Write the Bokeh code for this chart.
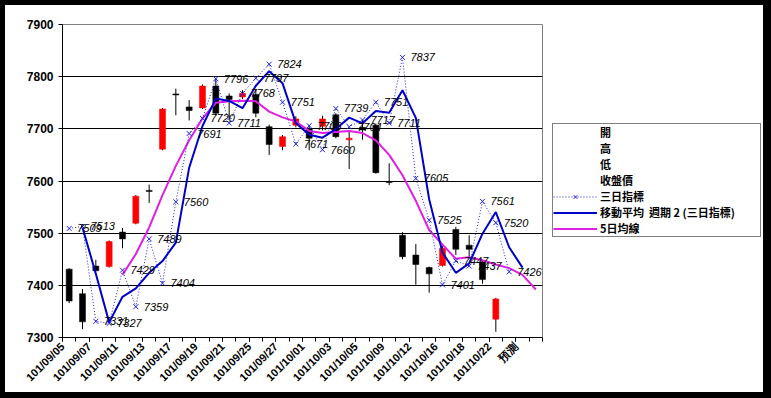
import math
import numpy as np
from bokeh.plotting import figure
from bokeh.layouts import row
from bokeh.models import (ColumnDataSource, FixedTicker, LinearAxis, Legend, LegendItem,
                          Range1d, Grid)
from bokeh.core.properties import value
from bokeh.embed import file_html
from bokeh.resources import INLINE

# ---------------- data ----------------
categories = ["101/09/05", "101/09/06", "101/09/07", "101/09/10", "101/09/11", "101/09/12",
              "101/09/13", "101/09/14", "101/09/17", "101/09/18", "101/09/19", "101/09/20",
              "101/09/21", "101/09/24", "101/09/25", "101/09/26", "101/09/27", "101/09/28",
              "101/10/01", "101/10/02", "101/10/03", "101/10/04", "101/10/05", "101/10/08",
              "101/10/09", "101/10/11", "101/10/12", "101/10/15", "101/10/16", "101/10/17",
              "101/10/18", "101/10/19", "101/10/22", "", "預測", ""]

open_ = [7431, 7384, 7437, 7436, 7502, 7519, 7582, 7661, 7767, 7742, 7740, 7782, 7763,
         7761, 7766, 7704, 7666, 7707, 7700, 7705, 7727, 7679, 7703, 7707, 7599, 7496,
         7458, 7434, 7438, 7507, 7477, 7445, 7335]
high = [7433, 7393, 7449, 7486, 7510, 7573, 7593, 7740, 7777, 7755, 7785, 7796, 7768,
        7774, 7775, 7708, 7688, 7724, 7707, 7725, 7730, 7696, 7717, 7710, 7634, 7502,
        7479, 7436, 7475, 7512, 7496, 7449, 7376]
low = [7366, 7316, 7427, 7434, 7471, 7517, 7558, 7659, 7726, 7716, 7738, 7726, 7718,
       7757, 7722, 7650, 7659, 7703, 7659, 7697, 7682, 7623, 7679, 7614, 7592, 7450,
       7401, 7386, 7436, 7458, 7452, 7403, 7311]
close = [7370, 7330, 7428, 7484, 7489, 7571, 7580, 7738, 7765, 7735, 7782, 7730, 7756,
         7768, 7730, 7670, 7685, 7719, 7682, 7719, 7685, 7682, 7698, 7616, 7597, 7455,
         7440, 7422, 7471, 7469, 7469, 7411, 7374]

# 三日指標 (cat 0..33)
tri_index = [7509, 7513, 7331, 7327, 7429, 7359, 7489, 7404, 7560, 7691, 7720, 7796, 7711,
             7768, 7797, 7824, 7751, 7671, 7706, 7660, 7739, 7704, 7717, 7751, 7711, 7837,
             7605, 7525, 7401, 7447, 7437, 7561, 7520, 7426]
# 移動平均 週期 2 (三日指標) (cat 1..34)
ma2 = [7511, 7422, 7329, 7378, 7394, 7424, 7446.5, 7482, 7625.5, 7705.5, 7758, 7753.5,
       7739.5, 7782.5, 7810.5, 7787.5, 7711, 7688.5, 7683, 7699.5, 7721.5, 7710.5, 7734,
       7731, 7774, 7721, 7565, 7463, 7424, 7442, 7499, 7540.5, 7473, 7434]
# 5日均線 (cat 4..35)
ma5 = [7420, 7460, 7511, 7573, 7629, 7678, 7720, 7750, 7753, 7754, 7753, 7733, 7722, 7714,
       7696, 7692, 7694, 7696, 7692, 7678, 7650, 7611, 7562, 7506, 7478, 7451, 7454, 7448,
       7440, 7433, 7420, 7392]

y_ticks = [7300, 7400, 7500, 7600, 7700, 7800, 7900]

legend_labels = ["開", "高", "低", "收盤價", "三日指標", "移動平均  週期 2 (三日指標)", "5日均線"]

# ---------------- styles ----------------
C_MA5 = "#e020e0"
C_TRI = "#2020e0"
C_MA2 = "#0000c8"

# ---------------- main figure ----------------
n = len(categories)
pos = np.arange(n) + 0.5   # category centres

fig = figure(width=543, height=398, x_range=Range1d(0, n), y_range=Range1d(7300, 7900),
             output_backend="svg", toolbar_location=None,
             x_axis_type=None, y_axis_type=None,
             min_border_left=62, min_border_right=1, min_border_top=24, min_border_bottom=61)
fig.border_fill_alpha = 0
fig.background_fill_color = "white"
fig.outline_line_color = "#808080"
fig.outline_line_width = 1

grid = Grid(dimension=1, ticker=FixedTicker(ticks=y_ticks[1:-1]),
            grid_line_color="black", grid_line_width=1)
fig.add_layout(grid)

yaxis = LinearAxis(ticker=FixedTicker(ticks=y_ticks), major_tick_out=4, major_tick_in=0,
                   minor_tick_out=0, minor_tick_in=0, axis_line_color="black",
                   major_tick_line_color="black", major_label_standoff=5,
                   major_label_text_font="Liberation Sans",
                   major_label_text_font_size="12px", major_label_text_font_style="bold",
                   major_label_text_color="black")
fig.add_layout(yaxis, "left")

label_ticks = list(range(0, n - 1, 2))
xaxis = LinearAxis(ticker=FixedTicker(ticks=label_ticks, minor_ticks=list(range(0, n + 1))),
                   major_label_overrides={i: categories[i] for i in label_ticks},
                   major_label_orientation=math.pi / 4,
                   major_tick_out=4, major_tick_in=0, minor_tick_out=4, minor_tick_in=0,
                   axis_line_color="black", major_tick_line_color="black",
                   minor_tick_line_color="black", major_label_standoff=3,
                   major_label_text_font="Liberation Sans",
                   major_label_text_font_size="11px", major_label_text_font_style="bold",
                   major_label_text_color="black")
fig.add_layout(xaxis, "below")

# candles
nc = len(open_)
cs = ColumnDataSource(dict(
    x=pos[:nc], o=open_, h=high, l=low, c=close,
    top=[max(a, b) for a, b in zip(open_, close)],
    bottom=[min(a, b) for a, b in zip(open_, close)],
    color=["#ff0000" if c > o else "#000000" for o, c in zip(open_, close)],
))
fig.segment(x0="x", y0="l", x1="x", y1="h", source=cs, line_color="black", line_width=1)
fig.vbar(x="x", width=0.45, top="top", bottom="bottom", source=cs,
         fill_color="color", line_color="color", line_width=0.5)

# lines
fig.line(pos[4:4 + len(ma5)], ma5, line_color=C_MA5, line_width=2)
fig.line(pos[:len(tri_index)], tri_index, line_color=C_TRI, line_width=1, line_dash="1 2")
fig.scatter(pos[:len(tri_index)], tri_index, marker="x", size=7, line_color=C_TRI, line_width=1)
fig.line(pos[1:1 + len(ma2)], ma2, line_color=C_MA2, line_width=2)

fig.text(x=pos[:len(tri_index)], y=tri_index, text=[str(v) for v in tri_index],
         x_offset=8, text_baseline="middle", text_align="left",
         text_font=value("Liberation Sans"), text_font_size="11px",
         text_font_style="italic", text_color="black")

# ---------------- legend panel ----------------
lf = figure(width=228, height=398, x_range=Range1d(0, 228), y_range=Range1d(0, 398),
            output_backend="svg", toolbar_location=None, x_axis_type=None, y_axis_type=None,
            min_border_left=0, min_border_right=0, min_border_top=0, min_border_bottom=0)
lf.border_fill_alpha = 0
lf.background_fill_alpha = 0
lf.outline_line_color = None
lf.xgrid.visible = False
lf.ygrid.visible = False

hx, hy = [-20, -10], [-20, -20]   # off-screen proxies used only for legend swatches
r_blank = lf.line(hx, hy, line_alpha=0)
r_tri_l = lf.line(hx, hy, line_color=C_TRI, line_width=1, line_dash="1 2")
r_tri_m = lf.scatter(hx, hy, marker="x", size=7, line_color=C_TRI, line_width=1)
r_ma2 = lf.line(hx, hy, line_color=C_MA2, line_width=2)
r_ma5 = lf.line(hx, hy, line_color=C_MA5, line_width=2)

renderer_sets = [[r_blank], [r_blank], [r_blank], [r_blank], [r_tri_l, r_tri_m], [r_ma2], [r_ma5]]
items = [LegendItem(label=lab, renderers=rs) for lab, rs in zip(legend_labels, renderer_sets)]
legend = Legend(items=items, location=(9, 100), margin=0, padding=0, spacing=0,
                glyph_width=44, glyph_height=13, label_height=13, label_width=160,
                label_standoff=3, border_line_color="black", border_line_width=1,
                background_fill_color="white", background_fill_alpha=1.0,
                label_text_font="Noto Sans CJK TC", label_text_font_size="11px",
                label_text_font_style="bold", label_text_color="black")
lf.add_layout(legend, "center")

p = row(fig, lf, spacing=0)
p.styles = {"background-color": "white",
            "box-shadow": "inset 5px 0 0 0 black, inset -8px 0 0 0 black, "
                          "inset 0 5px 0 0 black, inset 0 -6px 0 0 black"}

open("out.html", "w").write(file_html(p, INLINE))
